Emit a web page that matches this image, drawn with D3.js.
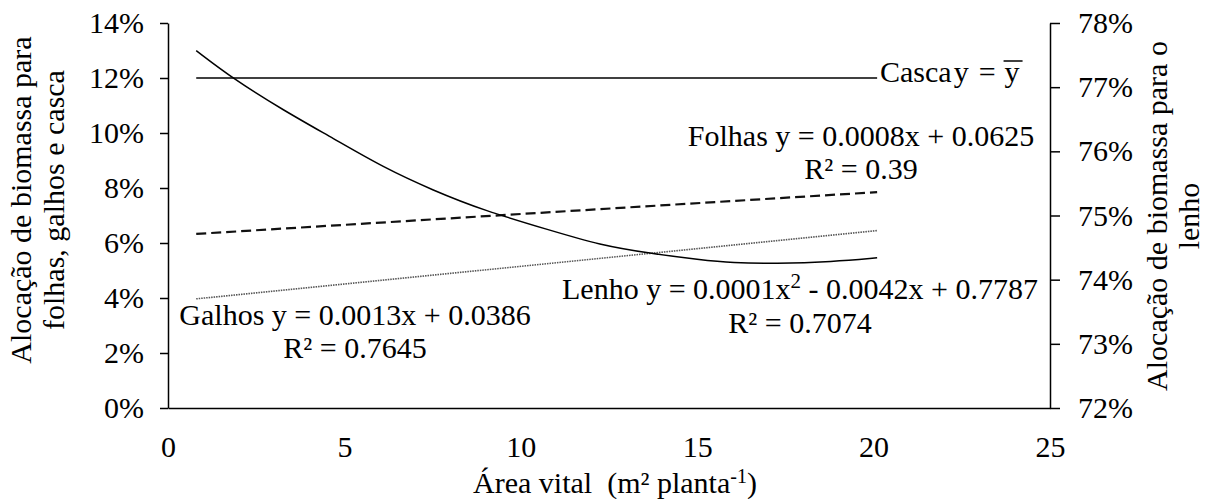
<!DOCTYPE html>
<html>
<head>
<meta charset="utf-8">
<script src="https://cdn.jsdelivr.net/npm/d3@7"></script>
<style>
  html, body { margin: 0; padding: 0; background: #fff; }
  svg text { font-family: "Liberation Serif", "Times New Roman", serif; fill: #000; }
</style>
</head>
<body>
<svg id="chart" width="1207" height="499"></svg>
<script>
// ---------- data ----------
const xTicks = [0, 5, 10, 15, 20, 25];
const leftTicks = [0, 0.02, 0.04, 0.06, 0.08, 0.10, 0.12, 0.14];
const rightTicks = [0.72, 0.73, 0.74, 0.75, 0.76, 0.77, 0.78];

// Casca (left axis): constant mean line
const cascaX = [0.8, 20.1];
const cascaY = [0.12, 0.12];

// Folhas (left axis): dashed linear trend
const folhasX = [0.8, 20.1];
const folhasY = [0.0633, 0.0785];

// Galhos (left axis): dotted linear trend
const galhosX = [0.8, 20.1];
const galhosY = [0.0397, 0.0645];

// Lenho (right axis): quadratic trend
const lenhoX = [0.8, 1.85, 3.27, 4.69, 6.10, 7.52, 8.94, 10.83, 12.24, 13.66, 15.08, 16.0, 17.2, 18.85, 20.1];
const lenhoY = [0.7757, 0.7713, 0.7664, 0.7620, 0.7575, 0.7539, 0.7508, 0.7477, 0.7454, 0.7441, 0.7431, 0.7426, 0.7425, 0.7428, 0.7434];

// ---------- layout ----------
const svg = d3.select("#chart");
const L = 168, R = 1050, T = 23, B = 408;
const FS = 30;

const x = d3.scaleLinear().domain([0, 25]).range([L, R]);
const yL = d3.scaleLinear().domain([0, 0.14]).range([B, T]);
const yR = d3.scaleLinear().domain([0.72, 0.78]).range([B, T]);

function styleAxis(g) {
  g.selectAll("path.domain, line").attr("stroke", "#000").attr("stroke-width", 1.5);
  g.selectAll("text").style("font-family", '"Liberation Serif", "Times New Roman", serif')
    .style("font-size", FS + "px").attr("fill", "#000");
}

// x axis
svg.append("g").attr("transform", `translate(0,${B})`)
  .call(d3.axisBottom(x).tickValues(xTicks).tickFormat(d3.format("d")).tickSize(0).tickSizeOuter(0).tickPadding(28))
  .call(styleAxis);

// left axis
svg.append("g").attr("transform", `translate(${L},0)`)
  .call(d3.axisLeft(yL).tickValues(leftTicks).tickFormat(d3.format(".0%")).tickSize(8).tickSizeOuter(0).tickPadding(16))
  .call(styleAxis);

// right axis
svg.append("g").attr("transform", `translate(${R},0)`)
  .call(d3.axisRight(yR).tickValues(rightTicks).tickFormat(d3.format(".0%")).tickSize(10).tickSizeOuter(0).tickPadding(18))
  .call(styleAxis);

// ---------- series ----------
const lineL = d3.line().x(d => x(d[0])).y(d => yL(d[1]));
const lineR = d3.line().x(d => x(d[0])).y(d => yR(d[1])).curve(d3.curveBasis);

svg.append("path").datum(d3.zip(cascaX, cascaY)).attr("d", lineL)
  .attr("fill", "none").attr("stroke", "#000").attr("stroke-width", 1.5);

svg.append("path").datum(d3.zip(folhasX, folhasY)).attr("d", lineL)
  .attr("fill", "none").attr("stroke", "#111").attr("stroke-width", 2.2)
  .attr("stroke-dasharray", "10,5");

svg.append("path").datum(d3.zip(galhosX, galhosY)).attr("d", lineL)
  .attr("fill", "none").attr("stroke", "#555").attr("stroke-width", 1.6)
  .attr("stroke-dasharray", "1.5,1");

svg.append("path").datum(d3.zip(lenhoX, lenhoY)).attr("d", lineR)
  .attr("fill", "none").attr("stroke", "#000").attr("stroke-width", 1.5);

// ---------- annotations ----------
function txt(xp, yp, anchor) {
  return svg.append("text").attr("x", xp).attr("y", yp)
    .attr("text-anchor", anchor).style("font-size", FS + "px");
}

// Casca y = ȳ
const casca = txt(880, 82, "start");
casca.append("tspan").text("Casca");
casca.append("tspan").attr("dx", 2).text("y");
casca.append("tspan").attr("dx", 10).text("=");
casca.append("tspan").attr("dx", 9).text("y");
{
  const node = casca.node();
  const n = node.getNumberOfChars();
  const s = node.getStartPositionOfChar(n - 1).x;
  const e = node.getEndPositionOfChar(n - 1).x;
  svg.append("line").attr("x1", s - 1).attr("x2", e + 3).attr("y1", 61).attr("y2", 61)
    .attr("stroke", "#000").attr("stroke-width", 1.5);
}

// Folhas
txt(861, 146, "middle").text("Folhas y = 0.0008x + 0.0625");
txt(861, 179, "middle").text("R² = 0.39");

// Galhos
txt(355, 325, "middle").text("Galhos y = 0.0013x + 0.0386");
txt(355, 358, "middle").text("R² = 0.7645");

// Lenho
const len = txt(800, 299, "middle");
len.append("tspan").text("Lenho y = 0.0001x");
len.append("tspan").attr("dy", -11).style("font-size", "21px").text("2");
len.append("tspan").attr("dy", 11).text("\u00a0- 0.0042x + 0.7787");
txt(800, 333, "middle").text("R² = 0.7074");

// ---------- axis titles ----------
const xt = txt(615, 493, "middle");
xt.append("tspan").text("Área vital\u00a0 (m² planta");
xt.append("tspan").attr("dy", -10).style("font-size", "20px").text("-1");
xt.append("tspan").attr("dy", 10).text(")");

const lt = svg.append("text").attr("transform", "translate(31,200) rotate(-90)")
  .attr("text-anchor", "middle").style("font-size", FS + "px");
lt.append("tspan").attr("x", 0).attr("y", 0).text("Alocação de biomassa para");
lt.append("tspan").attr("x", 0).attr("y", 33).text("folhas, galhos e casca");

const rt = svg.append("text").attr("transform", "translate(1167,216) rotate(-90)")
  .attr("text-anchor", "middle").style("font-size", FS + "px");
rt.append("tspan").attr("x", 0).attr("y", 0).text("Alocação de biomassa para o");
rt.append("tspan").attr("x", 0).attr("y", 32).text("lenho");
</script>
</body>
</html>
